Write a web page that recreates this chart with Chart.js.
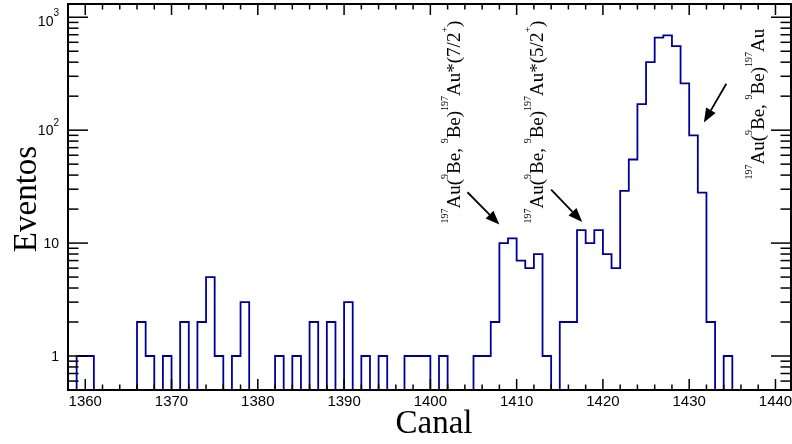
<!DOCTYPE html>
<html>
<head>
<meta charset="utf-8">
<script src="https://cdn.jsdelivr.net/npm/chart.js@4/dist/chart.umd.min.js"></script>
<style>
  html, body { margin: 0; padding: 0; background: #fff; }
  canvas { display: block; }
</style>
</head>
<body>
<canvas id="canal-hist" width="792" height="444"></canvas>
<script>
// histogram bins (lower edge of each 1-channel bin) and counts
const channels = [
  1358, 1359, 1360, 1361, 1362, 1363, 1364, 1365, 1366, 1367,
  1368, 1369, 1370, 1371, 1372, 1373, 1374, 1375, 1376, 1377,
  1378, 1379, 1380, 1381, 1382, 1383, 1384, 1385, 1386, 1387,
  1388, 1389, 1390, 1391, 1392, 1393, 1394, 1395, 1396, 1397,
  1398, 1399, 1400, 1401, 1402, 1403, 1404, 1405, 1406, 1407,
  1408, 1409, 1410, 1411, 1412, 1413, 1414, 1415, 1416, 1417,
  1418, 1419, 1420, 1421, 1422, 1423, 1424, 1425, 1426, 1427,
  1428, 1429, 1430, 1431, 1432, 1433, 1434, 1435, 1436, 1437,
  1438, 1439, 1440, 1441
]
const counts = [
  0, 1, 1, 0, 0, 0, 0, 0, 2, 1,
  0, 1, 0, 2, 0, 2, 5, 1, 0, 1,
  3, 0, 0, 0, 1, 0, 1, 0, 2, 0,
  2, 0, 3, 0, 1, 0, 1, 0, 0, 1,
  1, 1, 0, 1, 0, 0, 0, 1, 1, 2,
  10, 11, 7, 6, 8, 1, 0, 2, 2, 13,
  10, 13, 8, 6, 29, 55, 170, 400, 660, 690,
  555, 260, 90, 28, 2, 0, 1, 0, 0, 0,
  0, 0, 0, 0
]
const lastEdge = 1442

const xTicks = [1360, 1370, 1380, 1390, 1400, 1410, 1420, 1430, 1440]
const xTickLabels = ['1360', '1370', '1380', '1390', '1400', '1410', '1420', '1430', '1440']
const yTicks = [1, 10, 100, 1000]
const yTickBase = ['1', '10', '10', '10']
const yTickExp = ['', '', '2', '3']

const xTitle = 'Canal'
const yTitle = 'Eventos'

// rotated labels: pieces of text, "s" = superscript
const label79 = [['s', '197'], ['n', 'Au('], ['s', '9'], ['n', 'Be, '], ['s', '9'], ['n', 'Be)'], ['s', '197'], ['n', 'Au*(7/2'], ['s', '+'], ['n', ')']]
const label52 = [['s', '197'], ['n', 'Au('], ['s', '9'], ['n', 'Be, '], ['s', '9'], ['n', 'Be)'], ['s', '197'], ['n', 'Au*(5/2'], ['s', '+'], ['n', ')']]
const labelGs = [['s', '197'], ['n', 'Au('], ['s', '9'], ['n', 'Be, '], ['s', '9'], ['n', 'Be)'], ['s', '197'], ['n', 'Au']]

// where each label sits, in (channel, events)
const annotations = [
  { parts: label79, x: 1403.4, y: 14.9, from: [1404.3, 28.2], to: [1408.0, 14.6] },
  { parts: label52, x: 1413.0, y: 14.9, from: [1414.0, 29.8], to: [1417.6, 15.4] },
  { parts: labelGs, x: 1438.7, y: 36.5, from: [1434.3, 258], to: [1431.7, 117] },
]

const X_MIN = 1358, X_MAX = 1441.8
const Y_MIN = 0.5, Y_MAX = 1310

const SANS = '"Liberation Sans", Arial, sans-serif'
const SERIF = '"Liberation Serif", "Times New Roman", serif'

function line(ctx, x0, y0, x1, y1){
    ctx.beginPath()
    ctx.moveTo(x0, y0)
    ctx.lineTo(x1, y1)
    ctx.stroke()
}

function drawArrow(ctx, x0, y0, x1, y1){
    let ang = Math.atan2(y1 - y0, x1 - x0)
    let head = 14, half = 5.5
    let bx = x1 - head * Math.cos(ang), by = y1 - head * Math.sin(ang)
    ctx.lineWidth = 1.8
    line(ctx, x0, y0, bx, by)
    ctx.beginPath()
    ctx.moveTo(x1, y1)
    ctx.lineTo(bx + half * Math.sin(ang), by - half * Math.cos(ang))
    ctx.lineTo(bx - half * Math.sin(ang), by + half * Math.cos(ang))
    ctx.closePath()
    ctx.fill()
}

function drawRotatedLabel(ctx, parts, px, py){
    ctx.save()
    ctx.translate(px, py)
    ctx.rotate(-Math.PI / 2)
    ctx.textBaseline = 'alphabetic'
    ctx.textAlign = 'left'
    let pos = 0
    parts.forEach(([kind, txt]) => {
        ctx.font = kind == 's' ? '10px ' + SERIF : '19px ' + SERIF
        ctx.fillText(txt, pos, kind == 's' ? -12 : 0)
        pos += ctx.measureText(txt).width
    })
    ctx.restore()
}

const rootAxes = {
    id: 'rootAxes',
    afterDatasetsDraw(chart){
        const { ctx, chartArea: a, scales: { x, y } } = chart
        ctx.save()
        ctx.strokeStyle = '#000'
        ctx.fillStyle = '#000'

        // x ticks, both sides
        ctx.lineWidth = 1.5
        for (let v = 1358; v <= 1440; v += 2) {
            let px = x.getPixelForValue(v)
            let len = xTicks.includes(v) ? 11 : 5.5
            line(ctx, px, a.bottom, px, a.bottom - len)
            line(ctx, px, a.top, px, a.top + len)
        }

        // y ticks, both sides
        for (let d = 0.1; d < Y_MAX * 10; d *= 10) {
            for (let m = 1; m <= 9; m++) {
                let v = m * d
                if (v < Y_MIN || v > Y_MAX) continue
                let py = y.getPixelForValue(v)
                let len = m == 1 ? 20 : 10.5
                line(ctx, a.left, py, a.left + len, py)
                line(ctx, a.right, py, a.right - len, py)
            }
        }

        // frame
        ctx.lineWidth = 2
        ctx.strokeRect(a.left, a.top, a.right - a.left, a.bottom - a.top)

        // x labels
        ctx.font = '15px ' + SANS
        ctx.textAlign = 'center'
        ctx.textBaseline = 'middle'
        xTicks.forEach((v, i) => {
            ctx.fillText(xTickLabels[i], x.getPixelForValue(v), a.bottom + 12)
        })

        // y labels
        yTicks.forEach((v, i) => {
            let py = y.getPixelForValue(v)
            let right = a.left - 9
            ctx.textAlign = 'right'
            ctx.textBaseline = 'middle'
            if (yTickExp[i]) {
                if (v == 1000) py += 3.5
                ctx.font = '10px ' + SANS
                let w = ctx.measureText(yTickExp[i]).width
                ctx.fillText(yTickExp[i], right, py - 7)
                ctx.font = '14px ' + SANS
                ctx.fillText(yTickBase[i], right - w, py + 1)
            } else {
                ctx.font = '14px ' + SANS
                ctx.fillText(yTickBase[i], right, py + 1)
            }
        })

        // axis titles
        ctx.font = '33px ' + SERIF
        ctx.textAlign = 'center'
        ctx.textBaseline = 'alphabetic'
        ctx.fillText(xTitle, 434, 433)
        ctx.save()
        ctx.translate(36, 199)
        ctx.rotate(-Math.PI / 2)
        ctx.fillText(yTitle, 0, 0)
        ctx.restore()

        // peak labels and arrows
        annotations.forEach(an => {
            drawRotatedLabel(ctx, an.parts, x.getPixelForValue(an.x), y.getPixelForValue(an.y))
            drawArrow(ctx,
                x.getPixelForValue(an.from[0]), y.getPixelForValue(an.from[1]),
                x.getPixelForValue(an.to[0]), y.getPixelForValue(an.to[1]))
        })

        ctx.restore()
    }
}

// step points at the lower edge of each bin, plus the closing edge
let points = channels.map((c, i) => ({ x: c, y: Math.max(counts[i], Y_MIN) }))
points.push({ x: lastEdge, y: Y_MIN })

const ctx = document.getElementById('canal-hist').getContext('2d')
const histChart = new Chart(ctx, {
    type: 'line',
    data: {
        datasets: [{
            label: 'Eventos',
            data: points,
            stepped: 'before',
            borderColor: '#000099',
            borderWidth: 1.8,
            pointRadius: 0,
            fill: false,
        }]
    },
    options: {
        responsive: false,
        devicePixelRatio: 1,
        animation: false,
        layout: { padding: { left: 68, right: 1, top: 4, bottom: 54 } },
        plugins: { legend: { display: false }, tooltip: { enabled: false } },
        scales: {
            x: { type: 'linear', display: false, min: X_MIN, max: X_MAX },
            y: { type: 'logarithmic', display: false, min: Y_MIN, max: Y_MAX }
        }
    },
    plugins: [rootAxes]
})
</script>
</body>
</html>
